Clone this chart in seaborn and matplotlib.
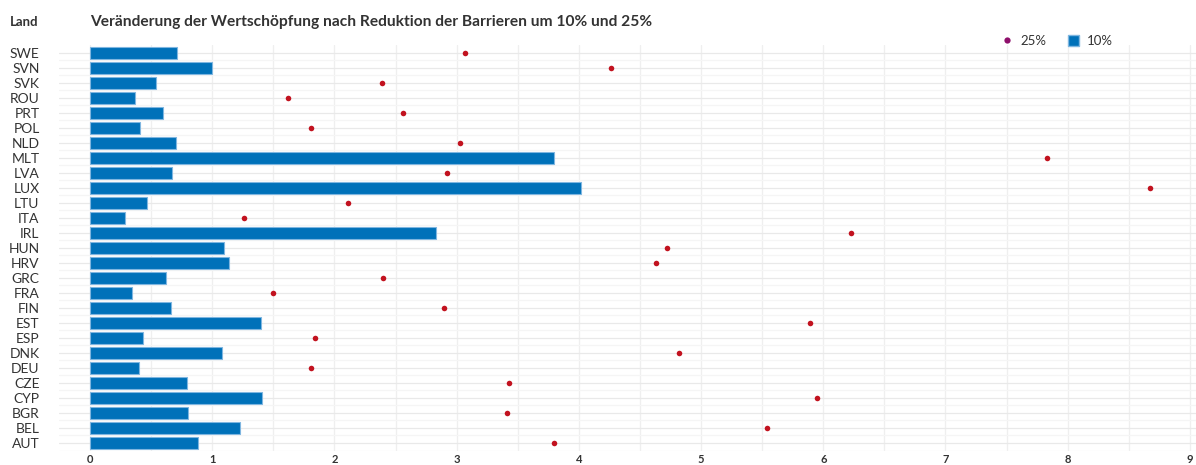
import matplotlib.pyplot as plt
import seaborn as sns
import pandas as pd
import numpy as np
from matplotlib.lines import Line2D
from matplotlib.patches import Patch

laender = ['SWE', 'SVN', 'SVK', 'ROU', 'PRT', 'POL', 'NLD', 'MLT', 'LVA', 'LUX',
           'LTU', 'ITA', 'IRL', 'HUN', 'HRV', 'GRC', 'FRA', 'FIN', 'EST', 'ESP',
           'DNK', 'DEU', 'CZE', 'CYP', 'BGR', 'BEL', 'AUT']
wert_10 = [0.71, 1.00, 0.54, 0.37, 0.60, 0.41, 0.70, 3.80, 0.67, 4.02,
           0.47, 0.29, 2.83, 1.10, 1.14, 0.62, 0.34, 0.66, 1.40, 0.43,
           1.08, 0.40, 0.79, 1.41, 0.80, 1.23, 0.88]
wert_25 = [3.07, 4.26, 2.39, 1.62, 2.56, 1.81, 3.03, 7.83, 2.92, 8.67,
           2.11, 1.26, 6.23, 4.72, 4.63, 2.40, 1.50, 2.90, 5.89, 1.84,
           4.82, 1.81, 3.43, 5.95, 3.41, 5.54, 3.80]

df = pd.DataFrame({'Land': laender, '10%': wert_10, '25%': wert_25})

blau = '#0071b9'
rot = '#c2121f'
lila = '#8e0f6b'

sns.set_style('white')
plt.rcParams['font.family'] = ['Lato', 'DejaVu Sans']

fig = plt.figure(figsize=(11.96, 4.65), dpi=100)
ax = fig.add_axes([59 / 1196, 1 - 450.5 / 465, 1 - 59 / 1196, (450.5 - 45) / 465])

# grid
for v in np.arange(0, 9.01, 0.5):
    ax.axvline(v, color='#efefef', lw=0.9, zorder=0)
for i in range(len(laender)):
    ax.axhline(i, color='#e9e9e9', lw=0.9, zorder=0)
    ax.axhline(i + 0.5, color='#f5f5f5', lw=0.9, zorder=0)

sns.barplot(data=df, x='10%', y='Land', order=laender, color=blau, width=0.8,
            edgecolor='#7fb6e0', linewidth=0.8, saturation=1, ax=ax, zorder=2)
sns.scatterplot(data=df, x='25%', y='Land', color=rot, s=16, linewidth=0,
                ax=ax, zorder=3)

ax.set_xlim(-31 / 122.3, 9.05)
ax.set_ylim(len(laender) - 0.5, -0.5)
ax.set_xticks(range(10))
ax.set_xlabel('')
ax.set_ylabel('')
for s in ax.spines.values():
    s.set_visible(False)
ax.tick_params(axis='x', length=0, pad=2.5, labelsize=8, colors='#333333')
ax.tick_params(axis='y', length=0, pad=14, labelsize=10, colors='#333333')
for t in ax.get_xticklabels():
    t.set_fontweight('bold')

fig.text(90 / 1196, 1 - 22 / 465, 'Veränderung der Wertschöpfung nach Reduktion der Barrieren um 10% und 25%',
         fontsize=11.2, fontweight='bold', color='#333333', va='center', ha='left')
fig.text(10 / 1196, 1 - 22 / 465, 'Land', fontsize=9.5, fontweight='bold',
         color='#333333', va='center', ha='left')

handles = [Line2D([0], [0], marker='o', color='none', markerfacecolor=lila,
                  markeredgecolor='none', markersize=4.5, label='25%'),
           Patch(facecolor=blau, edgecolor='#7fb6e0', label='10%')]
fig.legend(handles=handles, loc='center', bbox_to_anchor=(1057 / 1196, 1 - 41 / 465),
           ncol=2, frameon=False, fontsize=9.5, handlelength=0.9, handleheight=0.9,
           handletextpad=0.6, columnspacing=1.6, labelcolor='#333333')

fig.savefig('out.png', dpi=100)
